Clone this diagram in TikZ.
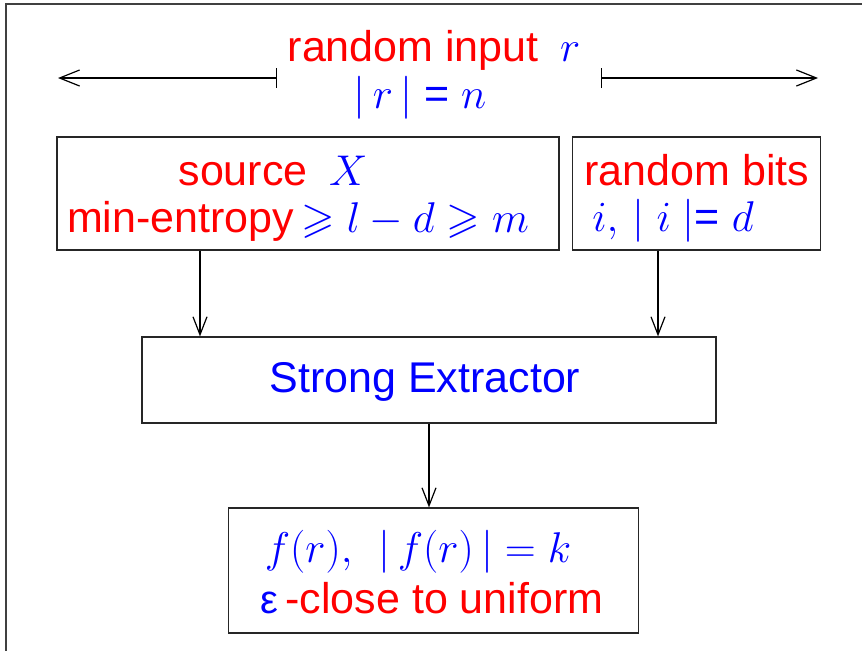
\RequirePackage{fix-cm}
\documentclass[tikz,border=0pt]{standalone}
\usepackage{amssymb}
\usepackage{fontspec}
\setmainfont{Liberation Sans}
\usetikzlibrary{arrows.meta}
\definecolor{myred}{RGB}{255,0,0}
\definecolor{myblue}{RGB}{0,0,255}
\tikzset{
  lbl/.style={font=\fontsize{43}{50}\selectfont, inner sep=0pt, anchor=base, text height=30pt, text depth=8pt},
  box/.style={draw=black!85, line width=1.2pt, inner sep=0pt},
  arr/.style={line width=1.2pt, -{Straight Barb[length=18pt,width=14pt,line width=1.2pt]}},
  harr/.style={line width=1.2pt, {Bar[width=20pt,line width=1.2pt]}-{Straight Barb[length=20pt,width=16pt,line width=1.2pt]}},
  frame/.style={draw=black!75, line width=1.5pt}
}
\begin{document}
\begin{tikzpicture}[x=1pt,y=-1pt]
\useasboundingbox (0,0) rectangle (862,651);
% frame (top and left edges)
\coordinate (ftr) at (862,4);
\coordinate (ftl) at (6,4);
\coordinate (fbl) at (6,651);
\draw[frame] (ftr) -- (ftl) -- (fbl);

% top labels
\node[lbl] (t1) at (434,61) {\textcolor{myred}{random input}\enspace\textcolor{myblue}{$r$}};
\node[lbl] (t2) at (420,108) {\textcolor{myblue}{$|\,r\,|$ = $n$}};
\coordinate (ltick) at (277,78);
\coordinate (lend) at (58,78);
\coordinate (rtick) at (601,78);
\coordinate (rend) at (818,78);
\draw[harr] (ltick) -- (lend);
\draw[harr] (rtick) -- (rend);

% boxes
\node[box, minimum width=502pt, minimum height=113pt] (src) at (308,193.5) {};
\node[box, minimum width=248pt, minimum height=113pt] (bits) at (696.5,193.5) {};
\node[box, minimum width=574pt, minimum height=86pt] (ext) at (429,380) {};
\node[box, minimum width=410pt, minimum height=125pt] (out) at (433.5,570.5) {};

% box texts
\node[lbl] (s1) at (273,185) {\textcolor{myred}{source}\enspace\textcolor{myblue}{$X$}};
\node[lbl] (s2) at (298,232) {\textcolor{myred}{min-entropy}\textcolor{myblue}{$\,\geqslant l - d\geqslant m$}};
\node[lbl] (b1) at (697,185) {\textcolor{myred}{random bits}};
\node[lbl] (b2) at (673,231) {\textcolor{myblue}{$i,\,|\;i\;|$= $d$}};
\node[lbl] (e1) at (425,392) {\textcolor{myblue}{Strong Extractor}};
\node[lbl] (o1) at (418,562) {\textcolor{myblue}{$f(r),\ \,|\,f(r)\,| = k$}};
\node[lbl] (o2) at (432,613) {\textcolor{myblue}{\fontsize{40}{48}\selectfont ε}\,\textcolor{myred}{-close to uniform}};

% vertical arrows
\coordinate (c1) at (200,0);
\coordinate (c2) at (658,0);
\coordinate (c3) at (429,0);
\draw[arr] (c1 |- src.south) -- (c1 |- ext.north);
\draw[arr] (c2 |- bits.south) -- (c2 |- ext.north);
\draw[arr] (c3 |- ext.south) -- (c3 |- out.north);
\end{tikzpicture}
\end{document}
